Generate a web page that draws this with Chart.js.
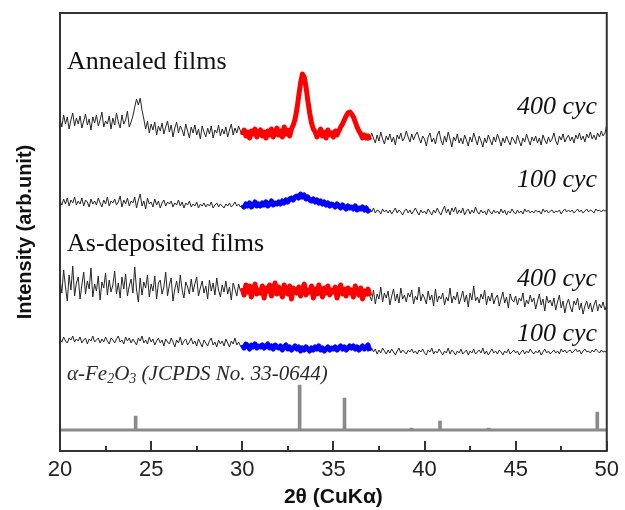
<!DOCTYPE html>
<html><head><meta charset="utf-8">
<script src="https://cdn.jsdelivr.net/npm/chart.js@4/dist/chart.umd.min.js"></script>
<style>html,body{margin:0;padding:0;background:#fff}#wrap{width:625px;height:510px}</style>
</head><body><div id="wrap"><canvas id="c" width="625" height="510"></canvas></div>
<script>
// 2θ grid: 20.0 .. 50.0, step 0.1
const thetaStart = 20, thetaStep = 0.1;
const xTicks = [20, 25, 30, 35, 40, 45, 50];
const highlightFrom = 30, highlightTo = 37;

const annealed400 = [
332,324,336,327,334,322,331,338,325,333,
327,335,323,330,337,326,332,321,334,328,
336,325,331,339,324,330,327,335,322,333,
326,338,329,323,336,327,331,340,324,329,
335,344,352,346,353,341,332,322,330,318,
327,321,329,316,325,320,328,317,324,330,
319,326,314,323,329,318,325,321,315,327,
320,313,324,318,326,316,322,312,325,319,
314,323,317,325,313,321,318,326,315,322,
317,324,314,321,327,316,323,318,325,320,
316,321,315,319,313,320,317,322,314,318,
321,315,319,313,320,316,322,314,318,323,
316,320,314,324,317,321,315,322,326,332,
342,355,368,377,374,364,350,338,328,322,
319,314,318,322,315,319,313,321,316,318,
314,320,316,320,324,327,331,335,338,339,
337,334,329,324,320,317,313,316,313,315,
311,318,313,308,316,310,319,312,307,315,
311,317,309,314,306,316,312,318,310,313,
320,314,309,317,311,316,319,313,308,315,
312,305,314,318,309,313,307,316,320,311,
306,315,309,319,312,304,314,310,317,308,
313,307,316,311,305,314,309,318,312,306,
315,310,304,313,308,316,311,306,314,309,
317,312,305,313,308,315,310,306,314,311,
307,316,310,305,313,309,317,311,306,314,
310,315,308,313,306,316,311,307,314,309,
312,318,310,306,315,311,317,309,313,316,
310,314,308,316,312,318,311,315,309,317,
313,319,312,316,311,318,314,320,315,318,
326];

const annealed100 = [
250,246,252,247,253,245,251,248,254,246,
250,247,253,245,251,249,244,252,247,250,
246,253,248,244,251,247,254,245,250,248,
252,246,249,255,244,251,247,253,245,250,
248,254,243,251,257,245,250,242,253,247,
249,244,252,246,250,243,248,251,245,249,
247,250,244,248,246,251,245,249,243,248,
246,250,244,247,245,249,243,247,245,248,
244,247,245,249,243,246,248,244,247,245,
243,247,245,248,244,246,249,245,247,244,
246,244,247,245,248,244,246,249,245,247,
245,248,246,249,245,247,250,246,248,247,
249,247,250,248,251,249,252,253,251,254,
255,253,257,254,256,252,254,251,250,252,
249,251,248,250,247,249,246,248,245,247,
246,244,247,245,243,246,244,242,245,243,
244,242,245,241,243,242,244,241,243,240,
242,239,243,238,241,240,237,242,239,241,
238,241,237,240,243,238,241,239,236,240,
242,238,241,237,240,243,239,236,241,238,
240,237,242,239,236,241,238,243,239,236,
241,245,238,242,236,243,239,244,237,241,
238,243,236,240,242,237,241,238,244,239,
237,241,238,240,236,242,239,237,241,238,
240,237,242,238,241,236,240,238,242,239,
237,241,238,240,237,242,239,241,238,240,
238,241,239,240,237,242,239,241,238,240,
241,238,240,239,241,237,240,242,239,241,
239,241,238,240,242,239,241,238,240,242,
239,241,240,238,242,240,241,239,241,240,
241];

const deposited400 = [
172,158,181,164,150,176,161,185,155,168,
174,152,166,179,157,170,162,183,154,167,
160,175,151,169,163,178,156,171,159,166,
180,157,168,153,174,162,177,155,165,172,
158,184,161,149,173,156,169,163,176,154,
167,160,175,152,168,171,157,164,179,155,
166,173,150,162,170,158,176,161,153,169,
164,157,172,159,167,174,155,163,170,158,
165,152,171,160,168,156,173,161,154,166,
159,170,157,164,151,168,162,155,167,160,
163,156,166,159,165,154,162,167,157,161,
158,165,153,163,160,166,155,162,168,157,
164,159,154,166,161,157,165,152,163,160,
158,164,155,162,167,156,161,159,165,153,
162,157,166,160,154,163,158,165,156,161,
159,164,153,160,166,157,162,155,163,158,
161,154,165,159,156,163,152,160,157,162,
155,150,161,147,157,152,164,149,158,153,
160,146,155,162,150,157,148,163,152,156,
149,158,154,161,147,155,151,164,150,157,
153,147,160,151,156,145,162,149,155,152,
158,146,154,150,163,148,155,151,159,147,
153,160,149,156,144,158,151,165,150,154,
148,157,152,161,146,155,150,158,147,153,
156,145,152,159,148,154,143,157,151,149,
155,146,153,150,158,144,151,147,156,149,
153,142,150,157,146,152,140,155,148,151,
145,153,141,149,156,143,150,138,147,152,
144,139,150,146,153,141,148,137,145,150,
142,148,139,146,151,140,147,143,149,141,
146];

const deposited100 = [
112,109,114,110,108,113,111,115,109,112,
110,114,108,111,113,107,112,110,115,109,
111,113,108,112,109,114,110,107,113,111,
108,112,115,109,111,107,114,110,113,108,
112,109,106,113,110,115,108,111,107,114,
109,112,106,110,113,108,111,105,112,109,
107,113,109,104,111,108,114,106,110,112,
106,109,113,107,110,105,112,108,104,111,
108,105,110,113,106,109,104,111,107,110,
105,112,108,104,110,107,113,106,109,105,
106,103,107,105,102,106,104,107,103,105,
104,106,103,105,107,103,105,102,106,104,
103,105,101,104,106,102,104,101,103,105,
102,104,100,103,101,104,102,100,103,101,
104,102,105,101,103,100,102,104,101,103,
102,104,101,103,105,102,104,101,103,105,
103,105,102,104,101,103,105,102,104,106,
100,103,99,102,97,101,98,103,100,97,
101,98,102,99,96,100,103,98,101,99,
97,101,99,102,98,100,97,101,99,102,
98,96,101,99,103,97,100,98,102,99,
96,100,98,103,97,101,99,96,100,98,
102,97,99,101,96,100,98,102,97,99,
101,98,103,97,100,96,99,102,98,100,
97,101,99,96,100,98,102,97,99,101,
98,100,96,99,101,97,100,98,102,99,
97,100,98,101,96,99,102,98,100,97,
99,101,98,100,97,102,99,101,98,100,
101,98,100,102,99,101,97,100,102,99,
100,98,101,99,102,100,98,101,99,100,
98];

// α-Fe2O3 reference pattern (JCPDS 33-0644)
const refPositions = [24.15, 33.15, 35.61, 39.28, 40.85, 43.52, 49.48];
const refHeights   = [14, 45, 32, 2, 9, 2, 18];
const refBaseline  = 21;

function toPoints(arr) {
  return arr.map((v, i) => ({ x: +(thetaStart + i * thetaStep).toFixed(2), y: v }));
}
function window30to37(arr) {
  return toPoints(arr).filter(p => p.x >= highlightFrom - 1e-9 && p.x <= highlightTo + 1e-9);
}

const traceStyle = { type: 'line', borderColor: '#262626', borderWidth: 1, pointRadius: 0, tension: 0, order: 2, fill: false };
const hiStyle = { type: 'line', borderWidth: 5, pointRadius: 0, tension: 0, order: 1, fill: false, borderJoinStyle: 'round' };

const datasets = [
  Object.assign({ label: 'Annealed 400 cyc', data: toPoints(annealed400) }, traceStyle),
  Object.assign({ label: 'Annealed 100 cyc', data: toPoints(annealed100) }, traceStyle),
  Object.assign({ label: 'As-deposited 400 cyc', data: toPoints(deposited400) }, traceStyle),
  Object.assign({ label: 'As-deposited 100 cyc', data: toPoints(deposited100) }, traceStyle),
  Object.assign({ label: 'A400 hi', data: window30to37(annealed400), borderColor: '#ff0000' }, hiStyle),
  Object.assign({ label: 'A100 hi', data: window30to37(annealed100), borderColor: '#0000ff' }, hiStyle),
  Object.assign({ label: 'D400 hi', data: window30to37(deposited400), borderColor: '#ff0000' }, hiStyle),
  Object.assign({ label: 'D100 hi', data: window30to37(deposited100), borderColor: '#0000ff' }, hiStyle),
  { type: 'line', label: 'ref base', data: [{ x: xTicks[0], y: refBaseline }, { x: xTicks[xTicks.length - 1], y: refBaseline }],
    borderColor: '#8a8a8a', borderWidth: 3, pointRadius: 0, order: 3 },
  { type: 'bar', label: 'ref', data: refPositions.map((p, i) => ({ x: p, y: [refBaseline, refBaseline + refHeights[i]] })),
    backgroundColor: '#8a8a8a', borderWidth: 0, barThickness: 3, order: 3 }
];

const labelFont = '"Liberation Serif", "Times New Roman", serif';
const sansFont = '"Liberation Sans", Arial, Helvetica, sans-serif';

const decor = {
  id: 'decor',
  afterDraw(chart) {
    const { ctx, chartArea: a, scales: { x } } = chart;
    ctx.save();
    // inner ticks on bottom axis
    ctx.strokeStyle = '#333'; ctx.lineWidth = 2;
    for (let v = xTicks[0]; v <= xTicks[xTicks.length - 1] + 1e-9; v += 2.5) {
      const px = Math.round(x.getPixelForValue(v));
      const len = (Math.abs(v % 5) < 1e-6) ? 10 : 5;
      ctx.beginPath(); ctx.moveTo(px, a.bottom); ctx.lineTo(px, a.bottom - len); ctx.stroke();
    }
    // frame
    ctx.strokeRect(a.left, a.top, a.right - a.left, a.bottom - a.top);
    // labels
    ctx.fillStyle = '#111';
    ctx.textBaseline = 'alphabetic';
    ctx.font = '26px ' + labelFont;
    ctx.textAlign = 'left';
    ctx.fillText('Annealed films', 67, 69);
    ctx.fillText('As-deposited films', 67, 251);
    ctx.font = 'italic 26px ' + labelFont;
    ctx.textAlign = 'right';
    ctx.fillText('400 cyc', 597, 114);
    ctx.fillText('100 cyc', 597, 187);
    ctx.fillText('400 cyc', 597, 286);
    ctx.fillText('100 cyc', 597, 341);
    // reference label with subscripts
    ctx.textAlign = 'left';
    ctx.fillStyle = '#2a2a2a';
    let cx = 67; const by = 380;
    const parts = [['α-Fe', 21, 0], ['2', 14, 3], ['O', 21, 0], ['3', 14, 3], [' (JCPDS No. 33-0644)', 21, 0]];
    for (const [t, s, dy] of parts) {
      ctx.font = 'italic ' + s + 'px ' + labelFont;
      ctx.fillText(t, cx, by + dy);
      cx += ctx.measureText(t).width;
    }
    ctx.restore();
  }
};

new Chart(document.getElementById('c'), {
  type: 'line',
  data: { datasets },
  options: {
    responsive: false, animation: false, devicePixelRatio: 1,
    layout: { padding: { top: 13, right: 13, left: 0, bottom: 0 } },
    plugins: { legend: { display: false }, tooltip: { enabled: false } },
    scales: {
      x: {
        type: 'linear', min: xTicks[0], max: xTicks[xTicks.length - 1], offset: false,
        afterBuildTicks(s) { s.ticks = xTicks.map(v => ({ value: v })); },
        ticks: { font: { family: sansFont, size: 22 }, color: '#222', padding: 6, maxRotation: 0, autoSkip: false },
        grid: { display: false, drawTicks: false }, border: { display: false },
        title: { display: true, text: '2θ (CuKα)', font: { family: sansFont, size: 21, weight: 'bold' }, color: '#111', padding: { top: 0, bottom: 0 } },
        afterFit(s) { s.height = 59; }
      },
      y: {
        type: 'linear', min: 0, max: 438,
        ticks: { display: false }, grid: { display: false, drawTicks: false }, border: { display: false },
        title: { display: true, text: 'Intensity (arb.unit)', font: { family: sansFont, size: 20, weight: 'bold' }, color: '#111', padding: { top: 13, bottom: 0 } },
        afterFit(s) { s.width = 60; }
      }
    }
  },
  plugins: [decor]
});
</script></body></html>
